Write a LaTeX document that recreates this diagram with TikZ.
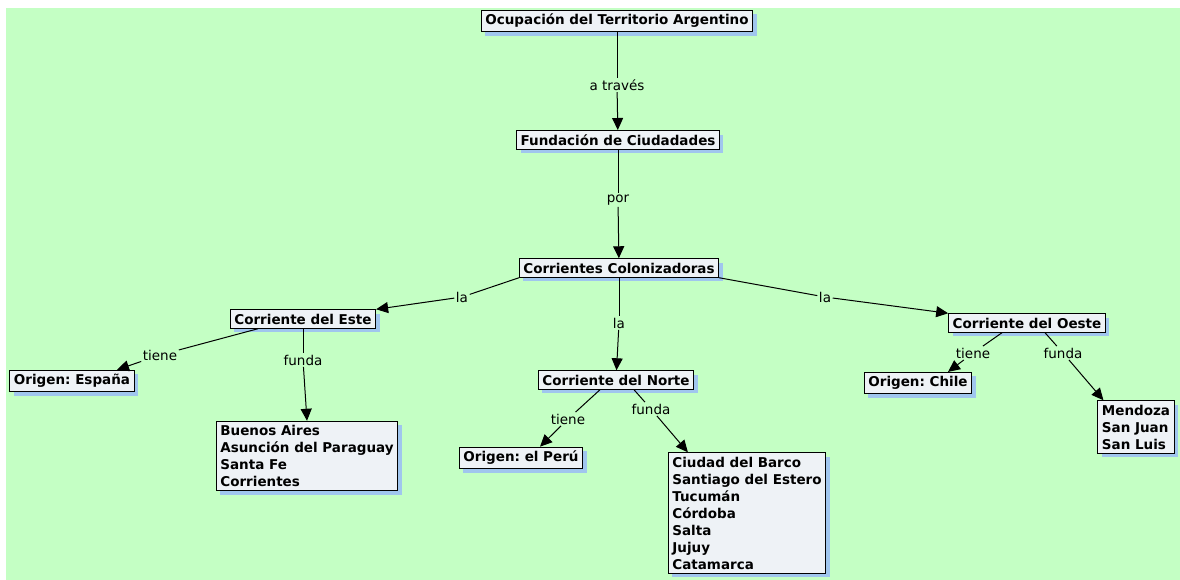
\documentclass[tikz,border=0pt]{standalone}
\usepackage{fontspec}
\setmainfont{DejaVu Sans}
\usetikzlibrary{arrows.meta,shadows}
\definecolor{bg}{RGB}{196,255,196}
\definecolor{boxfill}{RGB}{238,242,246}
\definecolor{shad}{RGB}{160,198,238}
\frenchspacing
\begin{document}
\begin{tikzpicture}[x=1pt,y=-1pt,
  concept/.style={draw=black, line width=1pt, fill=boxfill,
    font=\bfseries\fontsize{13.5}{17}\selectfont, align=left,
    inner xsep=4pt, inner ysep=4pt,
    drop shadow={shadow xshift=4pt, shadow yshift=-4pt, fill=shad, opacity=1}},
  link/.style={fill=bg, inner sep=1.5pt, font=\fontsize{13.5}{15}\selectfont},
  ln/.style={draw=black, line width=1pt},
  arr/.style={ln, -{Triangle[length=12pt,width=11pt]}}]
\useasboundingbox (0,0) rectangle (1180,580);
\fill[white] (0,0) rectangle (1180,580);
\fill[bg] (6,8) rectangle (1180,580);

% concepts
\node[concept] (ocu) at (617,21) {Ocupación del Territorio Argentino};
\node[concept] (fun) at (618,140) {Fundación de Ciudadades};
\node[concept] (col) at (619,268) {Corrientes Colonizadoras};
\node[concept] (este) at (303,319) {Corriente del Este};
\node[concept] (norte) at (616,380) {Corriente del Norte};
\node[concept] (oeste) at (1027,323) {Corriente del Oeste};
\node[concept] (esp) at (72,381) {Origen: España};
\node[concept] (peru) at (521,458) {Origen: el Perú};
\node[concept] (chile) at (918,383) {Origen: Chile};
\node[concept] (bsas) at (307,456) {Buenos Aires\\Asunción del Paraguay\\Santa Fe\\Corrientes};
\node[concept] (barco) at (747,513) {Ciudad del Barco\\Santiago del Estero\\Tucumán\\Córdoba\\Salta\\Jujuy\\Catamarca};
\node[concept] (mza) at (1136,427) {Mendoza\\San Juan\\San Luis};

% linking phrases
\node[link] (l1) at (617,85) {a través};
\node[link] (l2) at (618,200) {por};
\node[link] (l3) at (462,297) {la};
\node[link] (l4) at (619,323) {la};
\node[link] (l5) at (825,297) {la};
\node[link] (l6) at (160,355) {tiene};
\node[link] (l7) at (303,360) {funda};
\node[link] (l8) at (568,419) {tiene};
\node[link] (l9) at (651,409) {funda};
\node[link] (l10) at (973,353) {tiene};
\node[link] (l11) at (1063,353) {funda};

% connectors
\draw[ln] (ocu) -- (l1);
\draw[arr] (l1) -- (fun);
\draw[ln] (fun) -- (l2);
\draw[arr] (l2) -- (col);
\draw[ln] ([xshift=-100pt]col.south) -- (l3);
\draw[arr] (l3) -- (este.north east);
\draw[ln] (col) -- (l4);
\draw[arr] (l4) -- (norte);
\draw[ln] ([xshift=100pt]col.south) -- (l5);
\draw[arr] (l5) -- (oeste.north west);
\draw[ln] ([xshift=-45pt]este.south) -- (l6);
\draw[arr] (l6) -- ([xshift=45pt]esp.north);
\draw[ln] (este.south) -- (l7);
\draw[arr] (l7) -- (bsas.north);
\draw[ln] ([xshift=-16pt]norte.south) -- (l8);
\draw[arr] (l8) -- ([xshift=19pt]peru.north);
\draw[ln] ([xshift=18pt]norte.south) -- (l9);
\draw[arr] (l9) -- ([xshift=20pt]barco.north west);
\draw[ln] ([xshift=-25pt]oeste.south) -- (l10);
\draw[arr] (l10) -- ([xshift=30pt]chile.north);
\draw[ln] ([xshift=18pt]oeste.south) -- (l11);
\draw[arr] (l11) -- ([xshift=6pt]mza.north west);
\end{tikzpicture}
\end{document}
